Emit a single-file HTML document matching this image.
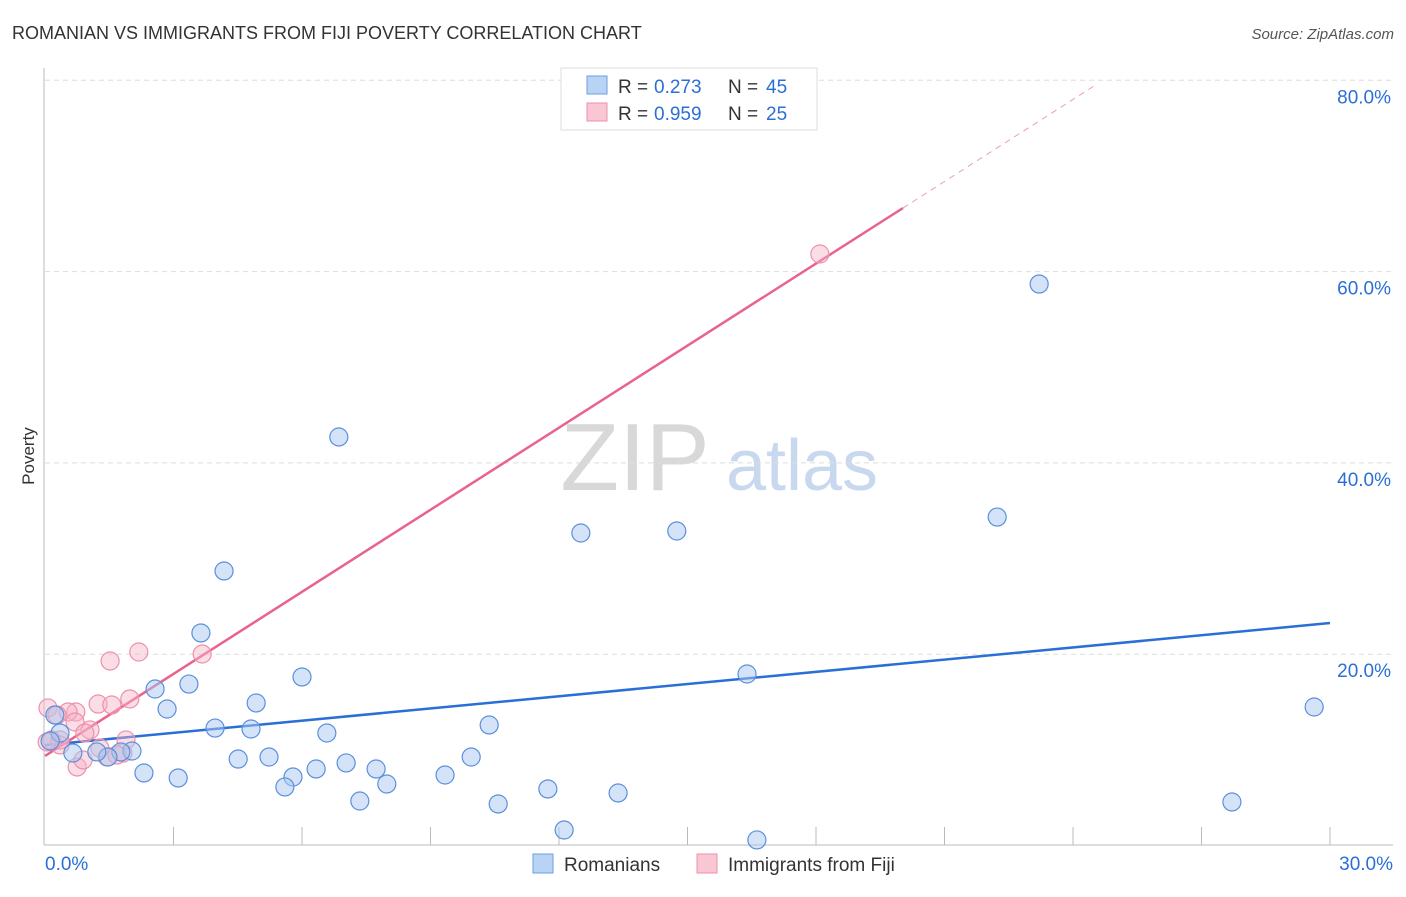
<!DOCTYPE html>
<html><head><meta charset="utf-8"><style>
body{margin:0;background:#fff;font-family:"Liberation Sans",sans-serif}
svg text{font-family:"Liberation Sans",sans-serif}
</style></head><body>
<svg id="chart" width="1406" height="892">
<text x="12" y="39" font-size="18" fill="#333">ROMANIAN VS IMMIGRANTS FROM FIJI POVERTY CORRELATION CHART</text>
<text x="1394" y="39" font-size="15" fill="#555" font-style="italic" text-anchor="end">Source: ZipAtlas.com</text>
<text x="34" y="456" font-size="17" fill="#333" transform="rotate(-90 34 456)" text-anchor="middle">Poverty</text>
<g>
<text x="635" y="490" font-size="96" fill="#d8d8d8" font-family="Liberation Serif" text-anchor="middle">ZIP</text>
<text x="802" y="490" font-size="72" fill="#c8d8ee" text-anchor="middle">atlas</text>
</g>
<g id="grid"></g><g id="axes"></g><g id="trend"></g><g id="pts"></g>
<g>
<rect x="561" y="68" width="256" height="62" fill="#fff" stroke="#ddd"/>
<rect x="587" y="76" width="20" height="18" fill="#b8d3f4" stroke="#6a9fe0"/>
<rect x="587" y="103" width="20" height="18" fill="#f9c6d4" stroke="#ee90ab"/>
<text x="618" y="93" font-size="19" fill="#333">R =</text>
<text x="654" y="93" font-size="19" fill="#2b6fd6">0.273</text>
<text x="728" y="93" font-size="19" fill="#333">N =</text>
<text x="766" y="93" font-size="19" fill="#2b6fd6">45</text>
<text x="618" y="120" font-size="19" fill="#333">R =</text>
<text x="654" y="120" font-size="19" fill="#2b6fd6">0.959</text>
<text x="728" y="120" font-size="19" fill="#333">N =</text>
<text x="766" y="120" font-size="19" fill="#2b6fd6">25</text>
</g>
<g>
<rect x="533" y="854" width="20" height="19" fill="#b8d3f4" stroke="#6a9fe0"/>
<text x="564" y="871" font-size="19" fill="#333">Romanians</text>
<rect x="697" y="854" width="20" height="19" fill="#f9c6d4" stroke="#ee90ab"/>
<text x="728" y="871" font-size="19" fill="#333">Immigrants from Fiji</text>
</g>
</svg>
<script>
const yTicks=[20,40,60,80];
const yTickLabels=["20.0%","40.0%","60.0%","80.0%"];
const xTickLabels=["0.0%","30.0%"];
const blueX=[6.86,23.21,12.51,14.75,22.23,4.18,3.64,16.39,29.63,2.57,3.36,2.85,4.93,6.00,3.97,4.81,6.58,10.37,4.51,5.23,5.79,6.33,7.03,7.73,9.34,9.95,2.31,3.11,5.60,7.35,7.98,10.58,11.74,13.38,12.12,16.62,27.71,2.03,1.77,1.47,1.21,0.65,0.35,0.23,0.12];
const blueY=[42.71,58.70,32.67,32.88,34.34,28.70,22.22,17.93,14.48,16.36,16.88,14.27,14.90,17.62,12.28,12.18,11.76,12.60,9.04,9.25,7.16,8.00,8.63,8.00,7.37,9.25,7.58,7.06,6.12,4.65,6.43,4.34,5.91,5.49,1.62,0.58,4.55,9.88,9.78,9.25,9.78,9.67,11.76,13.64,10.93];
const pinkX=[18.09,1.52,2.19,3.67,1.98,1.24,1.56,0.72,1.05,0.54,0.07,0.28,0.70,0.16,0.35,1.82,1.89,1.45,1.68,0.75,0.89,0.35,0.93,1.28,0.05];
const pinkY=[61.84,19.29,20.23,20.02,15.32,14.79,14.69,13.96,12.08,13.96,14.38,13.64,12.91,11.03,10.51,9.67,11.03,9.25,9.46,8.21,8.94,11.03,11.76,10.19,10.82];
const blueTrend=[10.5,23.26];
const pinkTrend=[9.36,2.86];
const NS="http://www.w3.org/2000/svg";
const X=v=>45+v/30*1285, Y=v=>845.5-v*9.565;
function mk(p,t,a){const e=document.createElementNS(NS,t);for(const k in a)e.setAttribute(k,a[k]);document.getElementById(p).appendChild(e);return e;}
yTicks.forEach((t,i)=>{
 const l=mk('grid','line',{x1:45,x2:1393,y1:Y(t),y2:Y(t),stroke:'#ddd','stroke-dasharray':'5,4'});
 
 
 const tx=mk('grid','text',{x:1391,y:Y(t)+23,'font-size':19,fill:'#2b6fd6','text-anchor':'end'});
 tx.textContent=yTickLabels[i];
 
 
});
mk('axes','line',{x1:44,x2:44,y1:68,y2:845,stroke:'#bbb'});
mk('axes','line',{x1:44,x2:1393,y1:845,y2:845,stroke:'#bbb'});
for(let i=1;i<=10;i++){const t=mk('axes','line',{x1:X(i*3),x2:X(i*3),y1:827,y2:845,stroke:'#bbb'});
 
 }
[[0,45,'start'],[1,1393,'end']].forEach(([i,x,a])=>{const t=mk('axes','text',{x:x,y:870,'font-size':19,fill:'#2b6fd6','text-anchor':a});t.textContent=xTickLabels[i];
 
 });
function dots(xs,ys,fill,stroke,name){xs.forEach((x,i)=>{const c=mk('pts','circle',{cx:X(x),cy:Y(ys[i]),r:9,fill:fill,stroke:stroke,'stroke-width':1.2});
 
 });}
dots(pinkX,pinkY,'rgba(247,180,200,0.45)','#ee90ab','fiji-point');
dots(blueX,blueY,'rgba(170,200,240,0.5)','#5a90dc','romanian-point');
const bt=mk('trend','line',{x1:X(0),y1:Y(blueTrend[0]),x2:X(30),y2:Y(blueTrend[1]),stroke:'#2a6fd6','stroke-width':2.5});


const pt=mk('trend','line',{x1:X(0),y1:Y(pinkTrend[0]),x2:X(20.03),y2:Y(pinkTrend[0]+pinkTrend[1]*20.03),stroke:'#e8638e','stroke-width':2.5});


const pd=mk('trend','line',{x1:X(20.03),y1:Y(pinkTrend[0]+pinkTrend[1]*20.03),x2:X(24.5),y2:Y(pinkTrend[0]+pinkTrend[1]*24.5),stroke:'#e8a0b8','stroke-width':1,'stroke-dasharray':'6,5'});


</script>
</body></html>
